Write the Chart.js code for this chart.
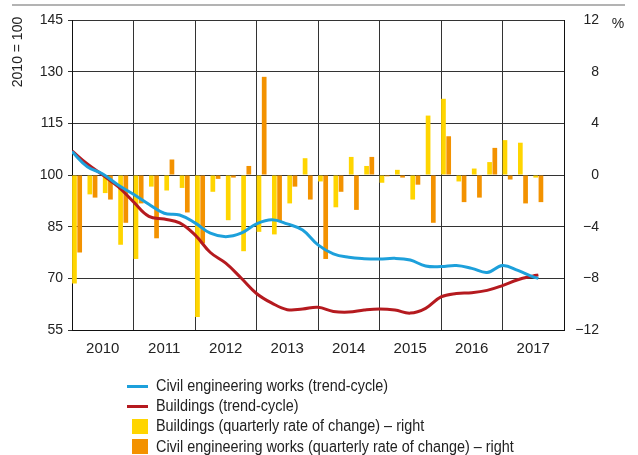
<!DOCTYPE html>
<html>
<head>
<meta charset="utf-8">
<script src="https://cdn.jsdelivr.net/npm/chart.js@4"></script>
<style>
  body { margin: 0; background: #fff; }
  #wrap { position: relative; width: 638px; height: 455px; }
  #legend { position: absolute; left: 127px; top: 376px; font: 16px 'Liberation Sans Narrow', 'Arial Narrow', sans-serif; color: #222; }
  #legend div { height: 20.2px; line-height: 20px; white-space: nowrap; position: relative; padding-left: 29px; }
  #legend span.mk { position: absolute; }
  #legend span.tx { display: inline-block; transform: scaleX(0.9); transform-origin: 0 50%; }
</style>
</head>
<body>
<div id="wrap">
  <canvas id="myChart" width="638" height="455"></canvas>
  <div id="legend"></div>
</div>
<script>
  // quarters 2010Q1 .. 2017Q3 (bars), rate of change in %
  const years = ['2010','2011','2012','2013','2014','2015','2016','2017'];
  const buildingsRate = [-8.4,-1.5,-1.4,-5.4, -6.5,-0.9,-1.2,-1.0, -11.0,-1.3,-3.5,-5.9,
                         -4.4,-4.6,-2.2,1.3, -0.5,-2.5,1.4,0.7, -0.6,0.4,-1.9,4.6,
                         5.9,-0.5,0.5,1.0, 2.7,2.5,-0.2];
  const civilRate = [-6.0,-1.75,-1.9,-3.7, -2.2,-4.9,1.2,-2.9, -5.3,-0.3,-0.2,0.7,
                     7.6,-3.6,-0.9,-1.9, -6.5,-1.3,-2.7,1.4, -0.1,-0.2,-0.75,-3.7,
                     3.0,-2.1,-1.75,2.1, -0.35,-2.2,-2.1];
  // trend-cycle, 2010 = 100, month index from Jan 2010
  const trendMonths = [0,3,6,9,12,15,18,21,24,27,30,33,36,39,42,45,48,51,54,57,60,63,66,69,72,75,78,81,84,87,90,91];
  const civilTrend = [106.8,102.4,100.3,97.1,94.4,91.5,88.9,88.4,86.1,83.1,82.1,83.1,
                      85.8,87.0,85.8,84.0,79.7,77.1,76.1,75.7,75.6,75.8,75.3,73.6,
                      73.4,73.7,72.9,71.7,73.7,72.3,70.4,70.0];
  const buildingsTrend = [107.0,103.2,100.0,96.6,92.2,88.0,87.2,86.1,82.6,77.5,74.4,70.1,
                          65.6,62.8,60.9,61.1,61.6,60.4,60.2,60.8,61.1,60.8,59.9,61.3,
                          64.6,65.6,65.8,66.5,67.9,69.6,70.7,71.0];

  const YELLOW = '#FFD500', ORANGE = '#F39200', BLUE = '#1DA0DB', RED = '#B51A1F';
  const FONT = "'Liberation Sans Narrow', 'Arial Narrow', sans-serif";

  Chart.defaults.font.family = FONT;
  Chart.defaults.font.size = 14;
  Chart.defaults.color = '#222';

  const extras = {
    id: 'extras',
    afterDraw(chart) {
      const ctx = chart.ctx;
      ctx.save();
      ctx.strokeStyle = '#9a9a9a';
      ctx.lineWidth = 1.5;
      ctx.beginPath(); ctx.moveTo(12, 5); ctx.lineTo(625, 5); ctx.stroke();
      ctx.fillStyle = '#222';
      ctx.font = '14px ' + FONT;
      ctx.textAlign = 'center';
      ctx.textBaseline = 'middle';
      ctx.fillText('%', 618, 24);
      ctx.translate(18, 52);
      ctx.rotate(-Math.PI / 2);
      ctx.fillText('2010 = 100', 0, 0);
      ctx.restore();
    }
  };

  const gridCol = '#333';
  let myChart = new Chart(document.getElementById('myChart'), {
    type: 'bar',
    data: {
      datasets: [
        { type: 'line', label: 'Civil engineering works (trend-cycle)', yAxisID: 'y',
          data: civilTrend.map((v, i) => ({x: trendMonths[i] / 3, y: v})),
          borderColor: BLUE, borderWidth: 3, pointRadius: 0, tension: 0.4, order: 0 },
        { type: 'line', label: 'Buildings (trend-cycle)', yAxisID: 'y',
          data: buildingsTrend.map((v, i) => ({x: trendMonths[i] / 3, y: v})),
          borderColor: RED, borderWidth: 3, pointRadius: 0, tension: 0.4, order: 0 },
        { label: 'Buildings (quarterly rate of change) – right', yAxisID: 'y1',
          data: buildingsRate.map((v, i) => ({x: i + 0.33, y: v})),
          backgroundColor: YELLOW, order: 1, categoryPercentage: 0.68, barPercentage: 0.9 },
        { label: 'Civil engineering works (quarterly rate of change) – right', yAxisID: 'y1',
          data: civilRate.map((v, i) => ({x: i + 0.33, y: v})),
          backgroundColor: ORANGE, order: 1, categoryPercentage: 0.68, barPercentage: 0.9 }
      ]
    },
    plugins: [extras],
    options: {
      responsive: false,
      animation: false,
      layout: { padding: { top: 20, right: 39, left: 0, bottom: 0 } },
      plugins: { legend: { display: false }, tooltip: { enabled: false } },
      scales: {
        x: {
          type: 'linear', min: 0, max: 32, offset: false,
          ticks: { stepSize: 2, autoSkip: false, maxRotation: 0, padding: 10, font: { size: 15 },
                   callback: v => (v % 4 === 2 ? years[(v - 2) / 4] : '') },
          grid: { offset: false, drawTicks: false, lineWidth: 1,
                  color: c => (c.tick && c.tick.value % 4 === 0 ? gridCol : 'rgba(0,0,0,0)') },
          border: { display: true, color: '#111', width: 1 },
          afterFit: s => { s.height = 125; }
        },
        y: {
          position: 'left', min: 55, max: 145,
          ticks: { stepSize: 15, padding: 5 },
          grid: { color: gridCol, lineWidth: 1, tickLength: 4 },
          border: { display: true, color: '#111', width: 1 },
          afterFit: s => { s.width = 72; }
        },
        y1: {
          position: 'right', min: -12, max: 12,
          ticks: { stepSize: 4, crossAlign: 'far', padding: 10,
                   callback: v => (v < 0 ? '\u2212' + Math.abs(v) : String(v)) },
          grid: { drawOnChartArea: false, drawTicks: false },
          border: { display: true, color: '#111', width: 1 },
          afterFit: s => { s.width = 35; }
        }
      }
    }
  });

  // html legend, vertical list
  const lg = document.getElementById('legend');
  myChart.data.datasets.forEach(ds => {
    const row = document.createElement('div');
    const mk = document.createElement('span');
    mk.className = 'mk';
    if (ds.type === 'line') {
      mk.style.cssText = 'left:0;top:8.5px;width:21px;height:3px;background:' + ds.borderColor;
    } else {
      mk.style.cssText = 'left:5px;top:2.5px;width:16px;height:15px;background:' + ds.backgroundColor;
    }
    const tx = document.createElement('span');
    tx.className = 'tx';
    tx.textContent = ds.label;
    row.appendChild(mk);
    row.appendChild(tx);
    lg.appendChild(row);
  });
  console.log(myChart.data)
</script>
</body>
</html>
